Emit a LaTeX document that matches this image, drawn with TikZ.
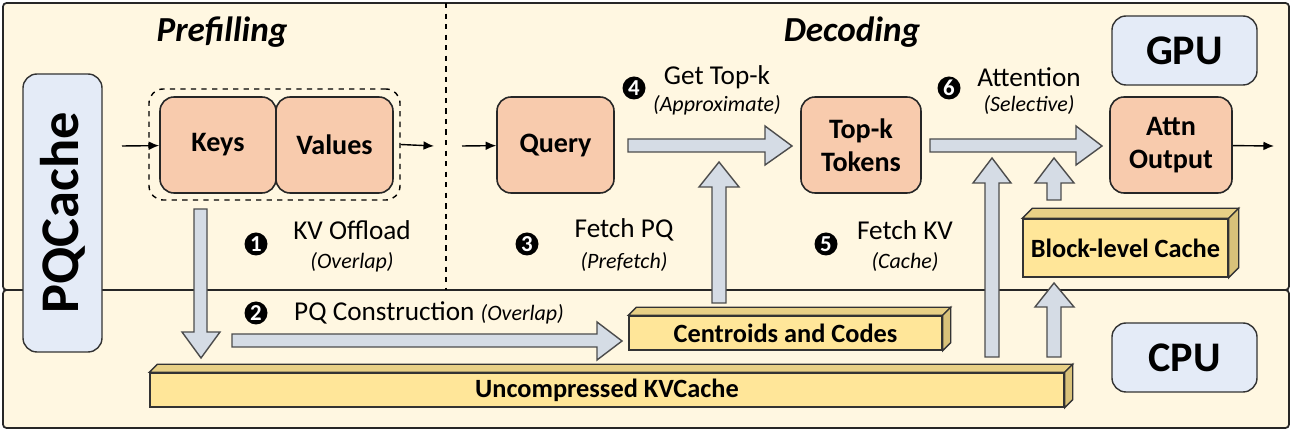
\documentclass[tikz,border=0pt]{standalone}
\usepackage{fontspec}
\setmainfont{Carlito}
\usetikzlibrary{positioning, fit, calc, arrows.meta}
\definecolor{cream}{HTML}{FFF7E1}
\definecolor{peach}{HTML}{F8CBAD}
\definecolor{paleblue}{HTML}{E4EBF7}
\definecolor{barfill}{HTML}{FFE699}
\definecolor{barside}{HTML}{D9C27A}
\definecolor{arrfill}{HTML}{D5DCE5}
\tikzset{
  panel/.style={draw=black!85, line width=1pt, fill=cream, rounded corners=2pt},
  block/.style={draw=black!85, line width=0.9pt, fill=peach, rounded corners=8pt, inner sep=0pt},
  blocktext/.style={font=\fontsize{16}{19}\selectfont\bfseries, align=center},
  tag/.style={draw=black!80, line width=0.8pt, fill=paleblue, rounded corners=8pt, inner sep=0pt},
  tagtext/.style={font=\fontsize{24}{26}\selectfont\bfseries},
  bar/.style={draw=black!80, line width=0.8pt, fill=barfill, inner sep=0pt},
  bartext/.style={font=\fontsize{15}{17}\selectfont\bfseries},
  num/.style={circle, fill=black, text=white, inner sep=0pt, minimum size=0.46cm, font=\fontsize{13}{13}\selectfont\bfseries},
  lbl/.style={font=\fontsize{15.5}{17}\selectfont, align=center},
  sub/.style={font=\fontsize{12.5}{14}\selectfont\itshape},
  fat/.style={draw=black!70, line width=0.8pt, fill=arrfill},
  thin/.style={-{Latex[length=6pt,width=5pt]}, line width=0.8pt},
}
% cuboid faces beside a bar node
\newcommand{\cubefaces}[2]{%
  \fill[barside!60!barfill, draw=black!80, line width=0.8pt] (#1.north west) -- ++(#2,-#2) -- ($(#1.north east)+(#2,-#2)$) -- (#1.north east) -- cycle;
  \fill[barside, draw=black!80, line width=0.8pt] (#1.north east) -- ++(#2,-#2) -- ($(#1.south east)+(#2,-#2)$) -- (#1.south east) -- cycle;}
\begin{document}
\begin{tikzpicture}[x=0.02cm,y=-0.02cm]
  \useasboundingbox (0,0) rectangle (1292,431);
  % panels
  \draw[panel] (3,3) rectangle (1289,290);
  \draw[panel] (3,290) rectangle (1289,428);
  \draw[dashed, line width=0.9pt] (446,3) -- (446,290);
  \node[font=\fontsize{20}{22}\selectfont\bfseries\itshape] (pre) at (222,32) {Prefilling};
  \node[font=\fontsize{20}{22}\selectfont\bfseries\itshape] (dec) at (852,32) {Decoding};
  % tags
  \node[tag, fit={(23,74)(102,352)}] (pq) {};
  \node[rotate=90, font=\fontsize{31}{34}\selectfont\bfseries] at (pq.center) {PQCache};
  \node[tag, fit={(1112,16)(1257,85)}] (gpu) {};
  \node[tagtext] at (gpu.center) {GPU};
  \node[tag, fit={(1112,323)(1257,392)}] (cpu) {};
  \node[tagtext] at (cpu.center) {CPU};
  % blocks
  \node[draw, dashed, line width=0.8pt, rounded corners=8pt, inner sep=0pt, fit={(149,89)(400,200)}] (kv) {};
  \node[block, fit={(160,97)(276,193)}] (keys) {};
  \node[blocktext] at (keys.center) {Keys};
  \node[block, fit={(276,97)(393,193)}] (values) {};
  \node[blocktext] at (values.center) {Values};
  \node[block, fit={(497,97)(614,193)}] (query) {};
  \node[blocktext] at (query.center) {Query};
  \node[block, fit={(801,97)(921,193)}] (topk) {};
  \node[blocktext] at (topk.center) {Top-k\\Tokens};
  \node[block, fit={(1110,97)(1232,193)}] (attn) {};
  \node[blocktext] at (attn.center) {Attn\\Output};
  \coordinate (in1) at (122,146);
  \coordinate (out1) at (434,146);
  \coordinate (in2) at (462,146);
  \coordinate (out2) at (1274,146);
  \draw[thin] (in1) -- (keys);
  \draw[thin] (kv.east) -- (out1);
  \draw[thin] (in2) -- (query);
  \draw[thin] (attn) -- (out2);
  % bars
  \node[bar, fit={(150,373)(1064,407)}] (kvc) {};
  \cubefaces{kvc}{8}
  \node[bartext] at (kvc.center) {Uncompressed KVCache};
  \node[bar, fit={(629,316)(942,350)}] (cc) {};
  \cubefaces{cc}{8}
  \node[bartext] at (cc.center) {Centroids and Codes};
  \node[bar, fit={(1023,219)(1228,277)}] (blk) {};
  \cubefaces{blk}{10}
  \node[bartext] at (blk.center) {Block-level Cache};
  % fat arrows
  \draw[fat] (194,209) -- (207,209) -- (207,332) -- (220,332) -- (201,358) -- (182,332) -- (194,332) -- cycle;
  \draw[fat] (232,334) -- (597,334) -- (597,322) -- (622,341) -- (597,360) -- (597,347) -- (232,347) -- cycle;
  \draw[fat] (628,139) -- (765,139) -- (765,126) -- (792,146) -- (765,165) -- (765,152) -- (628,152) -- cycle;
  \draw[fat] (930,139) -- (1076,139) -- (1076,126) -- (1102,146) -- (1076,165) -- (1076,152) -- (930,152) -- cycle;
  \draw[fat] (712,303) -- (712,187) -- (699,187) -- (719,162) -- (739,187) -- (726,187) -- (726,303) -- cycle;
  \draw[fat] (985,357) -- (985,183) -- (973,183) -- (992,158) -- (1011,183) -- (999,183) -- (999,357) -- cycle;
  \draw[fat] (1047,200) -- (1047,183) -- (1035,183) -- (1054,158) -- (1074,183) -- (1061,183) -- (1061,200) -- cycle;
  \draw[fat] (1047,357) -- (1047,307) -- (1035,307) -- (1054,283) -- (1074,307) -- (1061,307) -- (1061,357) -- cycle;
  % step labels
  \node[num] (n1) at (256,244) {1};
  \node[lbl] (t1) at (352,230) {KV Offload};
  \node[sub] at (352,262) {(Overlap)};
  \node[num] (n2) at (256,313) {2};
  \node[lbl, anchor=west] (t2) at (288,313) {PQ Construction \fontsize{12.5}{14}\selectfont\itshape(Overlap)};
  \node[num] (n3) at (527,244) {3};
  \node[lbl] (t3) at (624,230) {Fetch PQ};
  \node[sub] at (624,262) {(Prefetch)};
  \node[num] (n4) at (634,88) {4};
  \node[lbl] (t4) at (717,77) {Get Top-k};
  \node[sub] at (717,105) {(Approximate)};
  \node[num] (n5) at (826,244) {5};
  \node[lbl] (t5) at (905,230) {Fetch KV};
  \node[sub] at (905,262) {(Cache)};
  \node[num] (n6) at (949,88) {6};
  \node[lbl] (t6) at (1029,77) {Attention};
  \node[sub] at (1029,105) {(Selective)};
\end{tikzpicture}
\end{document}
